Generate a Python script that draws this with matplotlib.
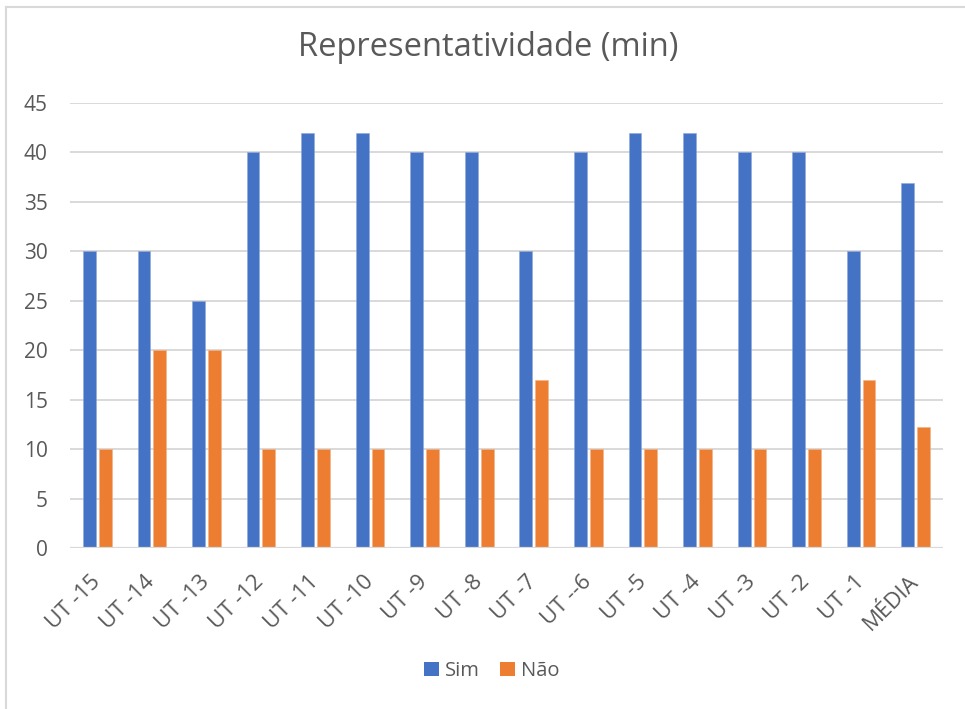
import matplotlib

matplotlib.use("Agg")
import matplotlib.pyplot as plt
import numpy as np
from matplotlib.lines import Line2D
from matplotlib.patches import Patch

BLUE = "#4472C4"
ORANGE = "#ED7D31"
GRID = "#D9D9D9"
TEXT = "#595959"

categories = ["UT -15", "UT -14", "UT -13", "UT -12", "UT -11", "UT -10", "UT -9", "UT -8",
              "UT -7", "UT --6", "UT -5", "UT -4", "UT -3", "UT -2", "UT -1", "MÉDIA"]
sim = [30, 30, 25, 40, 42, 42, 40, 40, 30, 40, 42, 42, 40, 40, 30, 36.87]
nao = [10, 20, 20, 10, 10, 10, 10, 10, 17, 10, 10, 10, 10, 10, 17, 12.27]
series_names = ["Sim", "Não"]
y_ticks = list(range(0, 46, 5))

plt.rcParams["font.family"] = ["Open Sans", "DejaVu Sans"]

fig = plt.figure(figsize=(9.65, 7.09), dpi=100)
ax = fig.add_axes([70 / 965, 1 - 548 / 709, 873 / 965, 445 / 709])

x = np.arange(len(categories))
width = 0.235
offset = 0.145
ax.bar(x - offset, sim, width, color=BLUE, edgecolor="#8EA9DB", linewidth=0.4, zorder=3)
ax.bar(x + offset, nao, width, color=ORANGE, edgecolor="#F4B183", linewidth=0.4, zorder=3)

ax.set_xlim(-0.5, len(categories) - 0.5)
ax.set_ylim(0, 45)
ax.set_yticks(y_ticks)
ax.set_xticks(x)
ax.set_xticklabels(categories, rotation=45, ha="right", va="center", rotation_mode="anchor",
                   fontsize=16)
ax.tick_params(axis="both", length=0, labelcolor=TEXT)
ax.tick_params(axis="y", labelsize=15, pad=16)
ax.tick_params(axis="x", pad=22)

for spine in ax.spines.values():
    spine.set_visible(False)
ax.yaxis.grid(True, color=GRID, linewidth=1.4)
ax.axhline(0, color=GRID, linewidth=1.6, zorder=4)
ax.set_axisbelow(True)

fig.text(488 / 965, 1 - 48 / 709, "Representatividade (min)", ha="center", va="center",
         fontsize=23.5, color=TEXT)

handles = [Patch(facecolor=BLUE), Patch(facecolor=ORANGE)]
fig.legend(handles, series_names, loc="center", bbox_to_anchor=(492 / 965, 1 - 671 / 709),
           ncol=2, frameon=False, fontsize=14.5, labelcolor=TEXT, handlelength=0.75,
           handleheight=0.75, handletextpad=0.3, columnspacing=1.0)

# chart border (left and top edges visible in the crop)
fig.add_artist(Line2D([6 / 965, 6 / 965], [0, 1 - 7 / 709], transform=fig.transFigure,
                      color=GRID, linewidth=1.5))
fig.add_artist(Line2D([6 / 965, 1], [1 - 7 / 709, 1 - 7 / 709], transform=fig.transFigure,
                      color=GRID, linewidth=1.5))

fig.savefig("out.png", dpi=100, facecolor="white")
